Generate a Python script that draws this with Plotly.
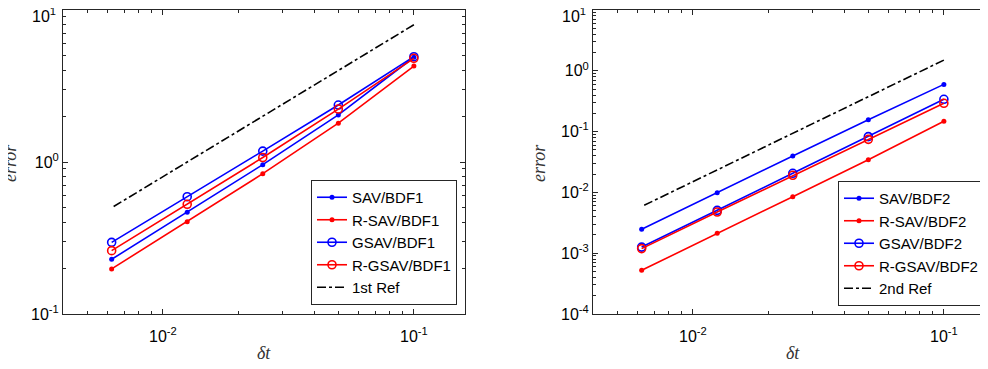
import plotly.graph_objects as go
import numpy as np

dt = [0.1, 0.05, 0.025, 0.0125, 0.00625]

# BDF1 errors
sav_bdf1 = [4.89, 2.04, 0.96, 0.467, 0.229]
rsav_bdf1 = [4.28, 1.80, 0.838, 0.405, 0.198]
gsav_bdf1 = [4.93, 2.37, 1.18, 0.591, 0.296]
rgsav_bdf1 = [4.81, 2.23, 1.07, 0.527, 0.261]
ref1 = [8.0, 4.0, 2.0, 1.0, 0.5]

# BDF2 errors
sav_bdf2 = [0.598, 0.157, 0.0397, 0.00989, 0.00247]
rsav_bdf2 = [0.1476, 0.0345, 0.0085, 0.00212, 0.000523]
gsav_bdf2 = [0.34, 0.0826, 0.0206, 0.00507, 0.00126]
rgsav_bdf2 = [0.292, 0.0746, 0.0191, 0.00476, 0.00119]
ref2 = [1.5, 0.375, 0.09375, 0.0234, 0.00586]

# page body has an 8px default margin; compensate
OFF = 8
W, H = 988 - OFF, 369 - OFF
ML, MR, MT, MB = 63 - OFF, 0, 10 - OFF, 55
PW = W - ML - MR
PH = H - MT - MB


def px_x(p):  # screen x -> paper x
    return (p - OFF - ML) / PW


def px_y(p):  # screen y -> paper y
    return (H - MB - (p - OFF)) / PH


fig = go.Figure()

BLUE = "#0000FF"
RED = "#FF0000"
FONT = "Liberation Sans, Arial, sans-serif"
AX = "#262626"


def add_series(x, y, name, color, symbol, xa, ya, legend):
    if symbol == "dot":
        marker = dict(symbol="circle", size=5, color=color)
    else:
        marker = dict(symbol="circle-open", size=8, color=color, line=dict(width=1.6, color=color))
    fig.add_trace(go.Scatter(x=x, y=y, name=name, mode="lines+markers",
                             line=dict(color=color, width=1.6), marker=marker,
                             xaxis=xa, yaxis=ya, legend=legend))


add_series(dt, sav_bdf1, "SAV/BDF1", BLUE, "dot", "x", "y", "legend")
add_series(dt, rsav_bdf1, "R-SAV/BDF1", RED, "dot", "x", "y", "legend")
add_series(dt, gsav_bdf1, "GSAV/BDF1", BLUE, "open", "x", "y", "legend")
add_series(dt, rgsav_bdf1, "R-GSAV/BDF1", RED, "open", "x", "y", "legend")
fig.add_trace(go.Scatter(x=dt, y=ref1, name="1st Ref", mode="lines",
                         line=dict(color="black", width=1.6, dash="dashdot"),
                         xaxis="x", yaxis="y", legend="legend"))

add_series(dt, sav_bdf2, "SAV/BDF2", BLUE, "dot", "x2", "y2", "legend2")
add_series(dt, rsav_bdf2, "R-SAV/BDF2", RED, "dot", "x2", "y2", "legend2")
add_series(dt, gsav_bdf2, "GSAV/BDF2", BLUE, "open", "x2", "y2", "legend2")
add_series(dt, rgsav_bdf2, "R-GSAV/BDF2", RED, "open", "x2", "y2", "legend2")
fig.add_trace(go.Scatter(x=dt, y=ref2, name="2nd Ref", mode="lines",
                         line=dict(color="black", width=1.6, dash="dashdot"),
                         xaxis="x2", yaxis="y2", legend="legend2"))


def minor_vals(lo, hi):
    out = []
    for e in range(lo, hi):
        for k in range(2, 10):
            out.append(k * 10.0 ** e)
    return out


def sup(e):
    return "10<sup>%d</sup>" % e


xt_vals = [0.01, 0.1]
xt_text = [sup(-2), sup(-1)]
y1_vals = [0.1, 1, 10]
y1_text = [sup(-1), sup(0), ""]          # top label drawn below as annotation
y2_vals = [1e-4, 1e-3, 1e-2, 1e-1, 1, 10]
y2_text = [sup(e) for e in range(-4, 1)] + [""]

x1_dom = [0, px_x(465)]
x2_dom = [px_x(593), 1]

axis_common = dict(type="log", showgrid=False, zeroline=False, showline=True,
                   linecolor=AX, linewidth=1, ticks="inside", ticklen=5,
                   tickcolor=AX, tickmode="array", automargin=False,
                   ticklabeloverflow="allow",
                   tickfont=dict(family=FONT, size=16, color="black"))


def minor(lo, hi):
    return dict(tickmode="array", tickvals=minor_vals(lo, hi), ticklen=3,
                ticks="inside", tickcolor=AX, tickwidth=1)


x_lo = np.log10(0.004)
x1_hi = x_lo + (465 - 63) / 251.0
x2_hi = x_lo + (988 - 593) / 251.0
eps = 1e-4

fig.update_layout(
    width=W, height=H,
    margin=dict(l=ML, r=MR, t=MT, b=MB, autoexpand=False),
    paper_bgcolor="white", plot_bgcolor="white",
    showlegend=True,
    xaxis=dict(axis_common, domain=x1_dom, range=[x_lo, x1_hi], anchor="y", mirror="ticks",
               tickvals=xt_vals, ticktext=xt_text, minor=minor(-3, 0), ticklabelstandoff=8),
    yaxis=dict(axis_common, domain=[0, 1], range=[-1 - eps, 1 + eps], anchor="x", mirror="ticks",
               tickvals=y1_vals, ticktext=y1_text, minor=minor(-1, 1)),
    xaxis2=dict(axis_common, domain=x2_dom, range=[x_lo, x2_hi], anchor="y2", mirror="ticks",
                tickvals=xt_vals, ticktext=xt_text, minor=minor(-3, 0), ticklabelstandoff=8),
    yaxis2=dict(axis_common, domain=[0, 1], range=[-4 - eps, 1 + eps], anchor="x2", mirror=False,
                tickvals=y2_vals, ticktext=y2_text, minor=minor(-4, 1)),
    legend=dict(x=px_x(457), y=px_y(305), xanchor="right", yanchor="bottom",
                bgcolor="white", bordercolor=AX, borderwidth=1,
                font=dict(family=FONT, size=15, color="black"), itemwidth=30,
                tracegroupgap=0),
    legend2=dict(x=px_x(984), y=px_y(306), xanchor="right", yanchor="bottom",
                 bgcolor="white", bordercolor=AX, borderwidth=1,
                 font=dict(family=FONT, size=15, color="black"), itemwidth=30,
                 tracegroupgap=0),
)

# top tick labels (kept inside the page, like MATLAB's clamped label)
for axx in (63, 593):
    fig.add_annotation(text=sup(1), x=px_x(axx), y=1, xref="paper", yref="paper",
                       xanchor="right", yanchor="top", xshift=-5, yshift=7,
                       showarrow=False, font=dict(family=FONT, size=16, color="black"))

title_font = dict(family="Liberation Serif, DejaVu Serif, serif", size=18, color="#333333")
annos = [
    dict(text="<i>error</i>", x=px_x(10), y=px_y(163), textangle=-90),
    dict(text="<i>error</i>", x=px_x(539), y=px_y(163), textangle=-90),
    dict(text="<i>δt</i>", x=px_x(264), y=px_y(353), textangle=0),
    dict(text="<i>δt</i>", x=px_x(793), y=px_y(353), textangle=0),
]
for a in annos:
    fig.add_annotation(text=a["text"], x=a["x"], y=a["y"], xref="paper", yref="paper",
                       showarrow=False, textangle=a["textangle"], font=title_font,
                       xanchor="center", yanchor="middle")

fig.write_html("out.html")
